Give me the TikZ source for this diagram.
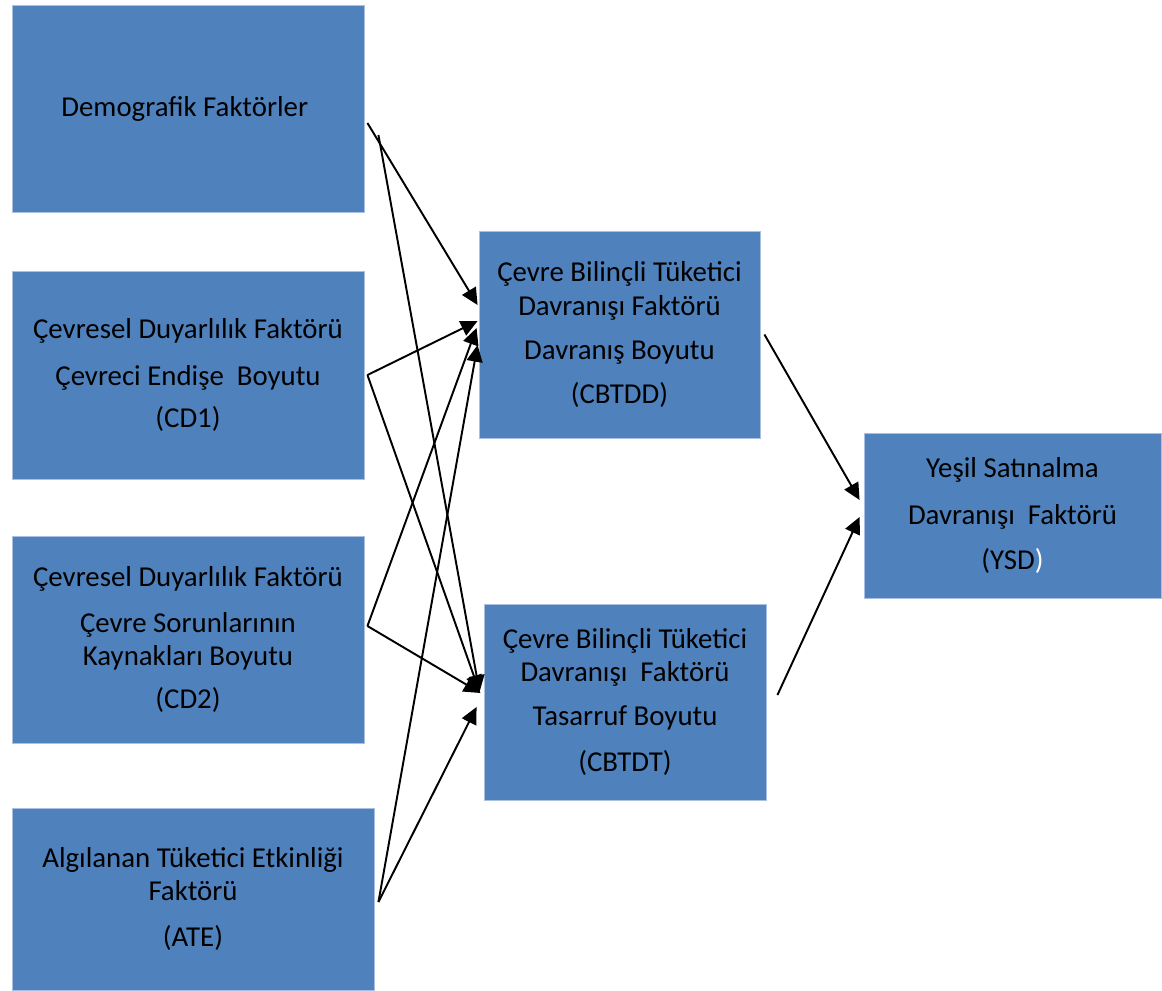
\documentclass[tikz,border=0pt]{standalone}
\usepackage{fontspec}
\setmainfont{Carlito}
\usepackage{tikz}
\usetikzlibrary{arrows.meta, positioning, calc}
\usepackage{xcolor}
\definecolor{boxblue}{HTML}{4F81BD}
\definecolor{boxline}{HTML}{A9C0DE}

\begin{document}
\begin{tikzpicture}[
        factor/.style={
            rectangle,
            fill=boxblue,
            draw=boxline,
            line width=0.5pt,
            align=center,
            font=\fontsize{16.4}{19}\selectfont,
            inner sep=0pt
        },
        arrow/.style={-{Triangle[length=9.5pt, width=9pt]}, black, line width=1.1pt}
    ]

    \useasboundingbox (0,0) rectangle (23.24,-19.8);

    % --- NODES ---
    \node (demo) [factor, minimum width=7.04cm, minimum height=4.14cm] at (3.76,-2.17) {
        Demografik Faktörler
    };

    \node (cdone) [factor, minimum width=7.04cm, minimum height=4.16cm] at (3.76,-7.5) {
        Çevresel Duyarlılık Faktörü\\[8pt]
        Çevreci Endişe\ \ Boyutu\\[5pt]
        (CD1)
    };

    \node (cdtwo) [factor, minimum width=7.04cm, minimum height=4.14cm] at (3.76,-12.79) {
        Çevresel Duyarlılık Faktörü\\[7pt]
        Çevre Sorunlarının\\
        Kaynakları Boyutu\\[5.5pt]
        (CD2)
    };

    \node (ate) [factor, minimum width=7.24cm, minimum height=3.64cm] at (3.86,-17.98) {
        Algılanan Tüketici Etkinliği\\
        Faktörü\\[7pt]
        (ATE)
    };

    \node (cbtdd) [factor, minimum width=5.62cm, minimum height=4.14cm] at (12.39,-6.69) {
        Çevre Bilinçli Tüketici\\
        Davranışı Faktörü\\[6pt]
        Davranış Boyutu\\[6pt]
        (CBTDD)
    };

    \node (cbtdt) [factor, minimum width=5.64cm, minimum height=3.92cm] at (12.5,-14.04) {
        Çevre Bilinçli Tüketici\\
        Davranışı\ \ Faktörü\\[6pt]
        Tasarruf Boyutu\\[7.5pt]
        (CBTDT)
    };

    \node (ysd) [factor, minimum width=5.94cm, minimum height=3.3cm] at (20.25,-10.31) {
        Yeşil Satınalma\\[7.5pt]
        Davranışı\ \ Faktörü\\[6.5pt]
        (YSD\textcolor{white}{)}
    };

    % --- ARROWS ---
    \draw [arrow] ($(demo.east)+(0.06,-0.29)$) -- ($(cbtdd.west)+(-0.02,0.59)$);
    \draw [arrow] ($(demo.east)+(0.28,-0.53)$) -- ($(cbtdt.west)+(-0.08,0.2)$);
    \draw [arrow] ($(cdone.east)+(0.06,0)$) -- ($(cbtdd.west)+(-0.02,0.27)$);
    \draw [arrow] ($(cdone.east)+(0.06,0)$) -- ($(cbtdt.west)+(-0.08,0.2)$);
    \draw [arrow] ($(cdtwo.east)+(0.06,0.27)$) -- ($(cbtdd.west)+(-0.04,0.13)$);
    \draw [arrow] ($(cdtwo.east)+(0.06,0.27)$) -- ($(cbtdt.west)+(-0.06,0.18)$);
    \draw [arrow] ($(ate.east)+(0.08,-0.06)$) -- ($(cbtdd.west)+(-0.02,-0.21)$);
    \draw [arrow] ($(ate.east)+(0.08,-0.06)$) -- ($(cbtdt.west)+(-0.14,-0.1)$);

    \draw [arrow] ($(cbtdd.east)+(0.08,0)$) -- ($(ysd.west)+(-0.08,0.31)$);
    \draw [arrow] ($(cbtdt.east)+(0.22,0.14)$) -- ($(ysd.west)+(-0.08,-0.03)$);

\end{tikzpicture}
\end{document}
